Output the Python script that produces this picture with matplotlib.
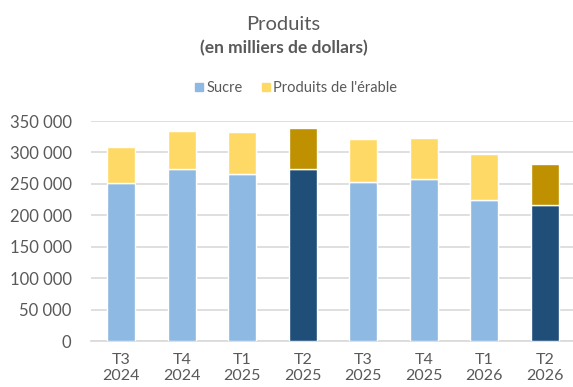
import matplotlib
matplotlib.use("Agg")
import matplotlib.pyplot as plt
from matplotlib.ticker import FuncFormatter
from matplotlib.lines import Line2D

categories = ["T3\n2024", "T4\n2024", "T1\n2025", "T2\n2025", "T3\n2025", "T4\n2025", "T1\n2026", "T2\n2026"]
sucre = [252000, 273000, 265000, 273000, 253000, 258000, 225000, 217000]
erable = [57000, 61000, 68000, 66000, 68000, 65000, 73000, 64000]
highlight = [False, False, False, True, False, False, False, True]

C_SUCRE = "#8DB9E2"
C_SUCRE_H = "#1F4E79"
C_ERABLE = "#FFD966"
C_ERABLE_H = "#BF9000"
TXT = "#595959"

plt.rcParams['font.family'] = ['Lato', 'DejaVu Sans']

fig = plt.figure(figsize=(5.73, 3.87), dpi=100)
ax = fig.add_axes([91/573, 46/387, 484/573, 220/387])

x = list(range(len(categories)))
sc = [C_SUCRE_H if h else C_SUCRE for h in highlight]
ec = [C_ERABLE_H if h else C_ERABLE for h in highlight]
ax.bar(x, sucre, width=0.47, color=sc, edgecolor="white", linewidth=1.0, zorder=3)
ax.bar(x, erable, bottom=sucre, width=0.47, color=ec, edgecolor="white", linewidth=1.0, zorder=3)

ax.set_xlim(-0.5, len(categories) - 0.5)
ax.set_ylim(0, 350000)
ax.set_yticks(range(0, 350001, 50000))
ax.yaxis.set_major_formatter(FuncFormatter(lambda v, p: f"{int(v):,}".replace(",", " ")))
ax.set_xticks(x)
ax.set_xticklabels(categories, color=TXT, fontsize=11.5, linespacing=1.1)
for lab in ax.get_yticklabels():
    lab.set_color(TXT)
    lab.set_fontsize(12)
ax.tick_params(axis="x", length=0, pad=9)
ax.tick_params(axis="y", length=0, pad=14)
ax.grid(axis="y", color="#D9D9D9", linewidth=1.2, zorder=0)
for s in ["top", "right", "left"]:
    ax.spines[s].set_visible(False)
ax.spines["bottom"].set_color("#D9D9D9")
ax.spines["bottom"].set_linewidth(1.2)

fig.text(0.495, 1 - 25/387, "Produits", ha="center", va="center", fontsize=14.5, color=TXT)
fig.text(0.495, 1 - 48/387, "(en milliers de dollars)", ha="center", va="center", fontsize=12.5, color=TXT, fontweight="bold")

handles = [Line2D([], [], marker="s", linestyle="", color=C_SUCRE, markersize=6),
           Line2D([], [], marker="s", linestyle="", color=C_ERABLE, markersize=6)]
fig.legend(handles, ["Sucre", "Produits de l'érable"], loc="center", bbox_to_anchor=(0.515, 1 - 88/387),
           ncol=2, frameon=False, fontsize=10.5, labelcolor=TXT, handletextpad=0.1, columnspacing=1.2,
           handlelength=0.8)

fig.savefig("out.png", dpi=100)
